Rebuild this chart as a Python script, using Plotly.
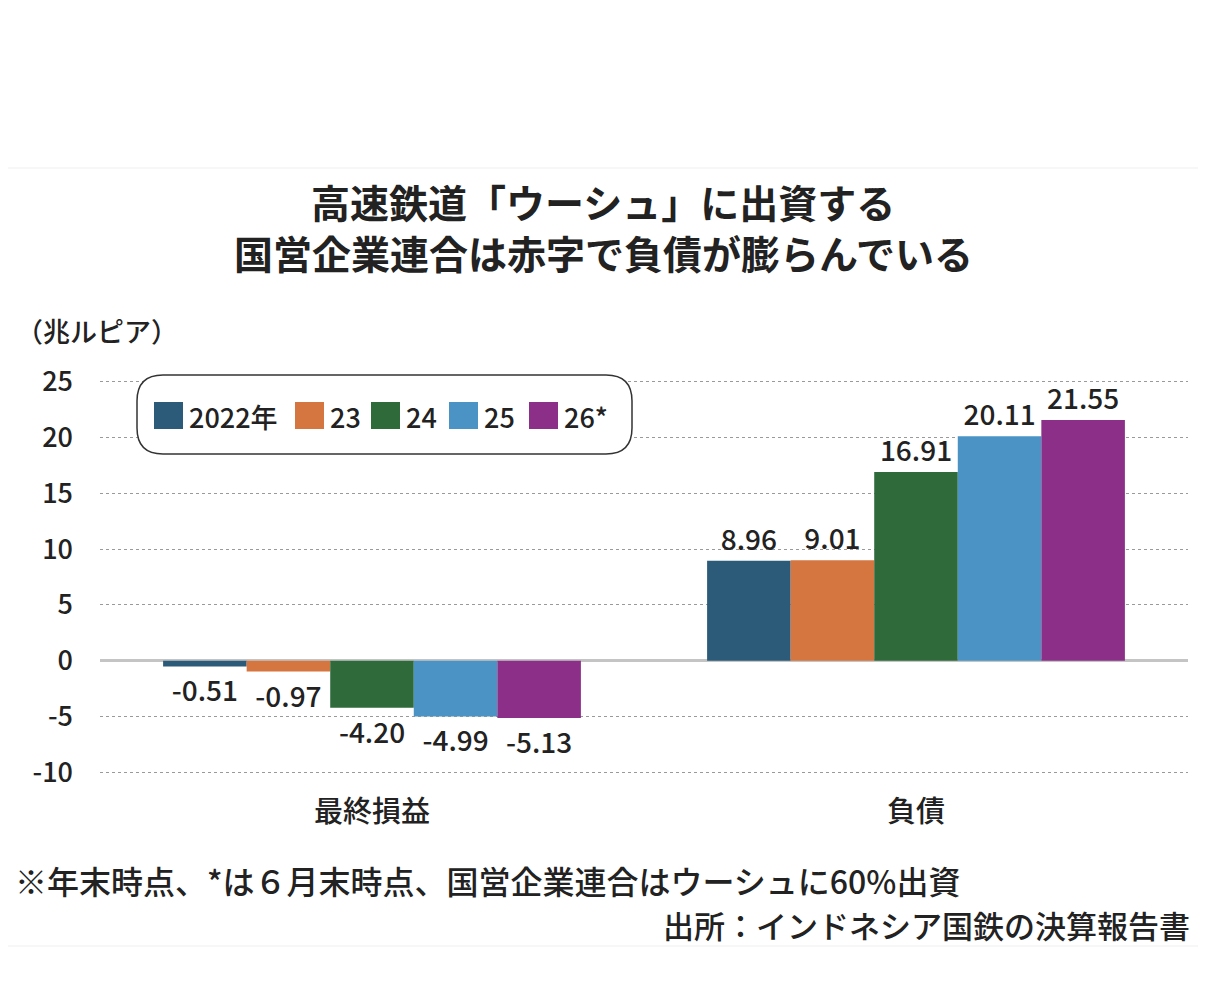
import plotly.graph_objects as go

# data (兆ルピア)
categories = ["最終損益", "負債"]
series_names = ["2022年", "23", "24", "25", "26*"]
values_2022 = [-0.51, 8.96]
values_2023 = [-0.97, 9.01]
values_2024 = [-4.20, 16.91]
values_2025 = [-4.99, 20.11]
values_2026 = [-5.13, 21.55]
series_values = [values_2022, values_2023, values_2024, values_2025, values_2026]
colors = ["#2c5b7a", "#d57540", "#2f6a3a", "#4a93c4", "#8b2f88"]
y_ticks = [25, 20, 15, 10, 5, 0, -5, -10]

title_lines = ["高速鉄道「ウーシュ」に出資する", "国営企業連合は赤字で負債が膨らんでいる"]
unit_label = "（兆ルピア）"
footnote = "※年末時点、*は６月末時点、国営企業連合はウーシュに60%出資"
source = "出所：インドネシア国鉄の決算報告書"

# the page puts the figure 8px in from the top-left corner,
# so the figure is a bit smaller than the window and page coords are shifted
OFF = 8
W, H = 1190, 970
L, R, T, B = 92, 10, 368, 200
PW = W - L - R
PH = H - T - B
FONT = "Noto Sans CJK JP, Noto Sans, sans-serif"
INK = "#222222"


def px(x):
    # page x pixel -> paper x
    return (x - OFF - L) / PW


def py(y):
    # page y pixel -> paper y
    return (H - B - (y - OFF)) / PH


fig = go.Figure()
for name, vals, c in zip(series_names, series_values, colors):
    fig.add_trace(go.Bar(
        x=categories, y=vals, name=name,
        marker=dict(color=c, line=dict(width=0)),
        text=[f"{v:.2f}" for v in vals],
        textposition="outside", constraintext="none",
        textfont=dict(size=28, color=INK, family=FONT, weight=500),
        cliponaxis=False, showlegend=False,
    ))

shapes = []
annotations = []

# faint frame lines of the chart panel
for yy in (168, 946):
    shapes.append(dict(type="line", xref="paper", yref="paper",
                       x0=px(0), x1=px(1206), y0=py(yy), y1=py(yy),
                       line=dict(color="#efefef", width=1)))

# rounded legend box
bx0, bx1, by0, by1, rad = 137, 632, 375, 454, 26
pts = (f"M {px(bx0 + rad)},{py(by0)} L {px(bx1 - rad)},{py(by0)} "
       f"Q {px(bx1)},{py(by0)} {px(bx1)},{py(by0 + rad)} "
       f"L {px(bx1)},{py(by1 - rad)} "
       f"Q {px(bx1)},{py(by1)} {px(bx1 - rad)},{py(by1)} "
       f"L {px(bx0 + rad)},{py(by1)} "
       f"Q {px(bx0)},{py(by1)} {px(bx0)},{py(by1 - rad)} "
       f"L {px(bx0)},{py(by0 + rad)} "
       f"Q {px(bx0)},{py(by0)} {px(bx0 + rad)},{py(by0)} Z")
shapes.append(dict(type="path", xref="paper", yref="paper", path=pts,
                   fillcolor="white", line=dict(color="#333333", width=1.5),
                   layer="above"))

# legend entries
legend_x = [154, 295, 371, 449, 529]
for name, c, lx in zip(series_names, colors, legend_x):
    shapes.append(dict(type="rect", xref="paper", yref="paper",
                       x0=px(lx), x1=px(lx + 29), y0=py(429), y1=py(402),
                       fillcolor=c, line=dict(width=0), layer="above"))
    annotations.append(dict(text=name, xref="paper", yref="paper",
                            x=px(lx + 33), y=py(416), xanchor="left", yanchor="middle",
                            showarrow=False,
                            font=dict(size=27, color=INK, family=FONT, weight=500)))

# titles and notes
for line, yy in zip(title_lines, (201, 252)):
    annotations.append(dict(text=f"<b>{line}</b>", xref="paper", yref="paper",
                            x=px(603), y=py(yy), xanchor="center", yanchor="middle",
                            showarrow=False, font=dict(size=39, color=INK, family=FONT)))
annotations.append(dict(text=unit_label, xref="paper", yref="paper",
                        x=px(14), y=py(330), xanchor="left", yanchor="middle",
                        showarrow=False, font=dict(size=27, color=INK, family=FONT, weight=500)))
annotations.append(dict(text=footnote, xref="paper", yref="paper",
                        x=px(13), y=py(880), xanchor="left", yanchor="middle",
                        showarrow=False, font=dict(size=32, color=INK, family=FONT, weight=500)))
annotations.append(dict(text=source, xref="paper", yref="paper",
                        x=px(1192), y=py(924), xanchor="right", yanchor="middle",
                        showarrow=False, font=dict(size=31, color=INK, family=FONT, weight=500)))

fig.update_layout(
    width=W, height=H,
    margin=dict(l=L, r=R, t=T, b=B),
    paper_bgcolor="white", plot_bgcolor="white",
    barmode="group", bargap=0.232, bargroupgap=0,
    font=dict(family=FONT, color=INK),
    shapes=shapes, annotations=annotations,
    showlegend=False,
)
fig.update_xaxes(
    showgrid=False, showline=False, zeroline=False,
    tickfont=dict(size=29, color=INK, family=FONT, weight=500),
    ticklabelstandoff=14,
)
fig.update_yaxes(
    range=[-10.5, 25.5], tickvals=y_ticks, ticktext=[str(v) for v in y_ticks],
    showgrid=True, gridcolor="#9a9a9a", griddash="dot", gridwidth=1,
    zeroline=True, zerolinecolor="#c4c4c4", zerolinewidth=3,
    showline=False,
    tickfont=dict(size=27, color=INK, family=FONT, weight=500),
    ticklabelstandoff=26,
)

fig.write_html("out.html")
